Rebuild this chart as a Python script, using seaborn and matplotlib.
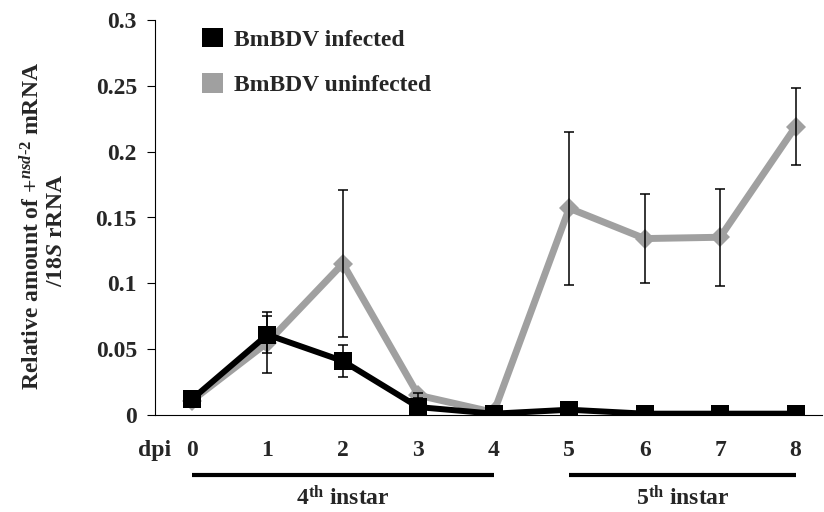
import matplotlib
matplotlib.use("Agg")
import matplotlib.pyplot as plt
import matplotlib.transforms as mtransforms
from matplotlib.patches import Patch
from matplotlib.ticker import FuncFormatter, MultipleLocator
import numpy as np
import pandas as pd
import seaborn as sns

# values
dpi = [0, 1, 2, 3, 4, 5, 6, 7, 8]
infected = [0.012, 0.061, 0.041, 0.006, 0.001, 0.004, 0.001, 0.001, 0.001]
infected_err = [0.002, 0.014, 0.012, 0.002, 0.0, 0.002, 0.0, 0.0, 0.0]
uninfected = [0.011, 0.055, 0.115, 0.015, 0.002, 0.157, 0.134, 0.135, 0.219]
uninfected_err = [0.002, 0.023, 0.056, 0.002, 0.0, 0.058, 0.034, 0.037, 0.029]
labels = ["BmBDV infected", "BmBDV uninfected"]
stages = [r"4$^{\mathbf{th}}$ instar", r"5$^{\mathbf{th}}$ instar"]
stage_spans = [(0, 4), (5, 8)]

sns.set_theme(style="white")
plt.rcParams["font.family"] = ["Liberation Serif", "DejaVu Serif"]
plt.rcParams["font.weight"] = "bold"
plt.rcParams["mathtext.fontset"] = "custom"
plt.rcParams["mathtext.rm"] = "Liberation Serif:bold"
plt.rcParams["mathtext.bf"] = "Liberation Serif:bold"
plt.rcParams["mathtext.it"] = "Liberation Serif:italic:bold"

df = pd.DataFrame({
    "dpi": dpi * 2,
    "value": uninfected + infected,
    "group": [labels[1]] * len(dpi) + [labels[0]] * len(dpi),
})

fig = plt.figure(figsize=(8.24, 5.12), dpi=100)
ax = fig.add_axes([155 / 824, 97 / 512, 667 / 824, 395 / 512])

colors = {labels[0]: "black", labels[1]: "#a0a0a0"}
fs = 17

# gray line first so the black one sits on top
sns.lineplot(data=df[df.group == labels[1]], x="dpi", y="value", color=colors[labels[1]],
             marker="D", markersize=10, markeredgewidth=0, linewidth=5, ax=ax, legend=False)
sns.lineplot(data=df[df.group == labels[0]], x="dpi", y="value", color=colors[labels[0]],
             marker="s", markersize=12.5, markeredgewidth=0, linewidth=4.3, ax=ax, legend=False)

ax.errorbar(dpi, uninfected, yerr=uninfected_err, fmt="none", ecolor="black",
            elinewidth=1.1, capsize=3.5, capthick=1.1, zorder=5)
ax.errorbar(dpi, infected, yerr=infected_err, fmt="none", ecolor="black",
            elinewidth=1.1, capsize=3.5, capthick=1.1, zorder=5)

ax.set_xlim(-0.49, 8.35)
ax.set_ylim(0, 0.3)
ax.yaxis.set_major_locator(MultipleLocator(0.05))
ax.yaxis.set_major_formatter(FuncFormatter(lambda v, p: "%g" % round(v, 2)))
ax.set_xticks(dpi)
ax.set_xticklabels([str(d) for d in dpi])
ax.tick_params(axis="y", which="major", left=True, length=6, width=0.8, pad=7,
               labelsize=fs, color="black")
ax.tick_params(axis="x", length=0, pad=18, labelsize=fs)
for lab in ax.get_xticklabels() + ax.get_yticklabels():
    lab.set_fontweight("bold")
ax.set_xlabel("")
ax.set_ylabel("")
for side in ["top", "right"]:
    ax.spines[side].set_visible(False)
for side in ["left", "bottom"]:
    ax.spines[side].set_color("black")
    ax.spines[side].set_linewidth(0.8)

# y label, two lines
fig.text(32 / 824, 1 - 226 / 512, "Relative amount of $+^{nsd\u20102}$ mRNA",
         rotation=90, ha="center", va="center", fontsize=fs, fontweight="bold")
fig.text(57 / 824, 1 - 231 / 512, r"/$\mathit{18S}$ rRNA",
         rotation=90, ha="center", va="center", fontsize=fs, fontweight="bold")

# dpi label and instar bars below the axis
trans = mtransforms.blended_transform_factory(ax.transData, ax.transAxes)
ax.text(-0.49, -0.089, "dpi", transform=trans, ha="center", va="center",
        fontsize=fs, fontweight="bold")
for (a, b), name in zip(stage_spans, stages):
    ax.plot([a, b], [-0.152, -0.152], transform=trans, color="black",
            linewidth=3, clip_on=False, solid_capstyle="butt")
    ax.text((a + b) / 2, -0.21, name, transform=trans, ha="center", va="center",
            fontsize=fs, fontweight="bold")

handles = [Patch(facecolor=colors[l], edgecolor="none", label=l) for l in labels]
fig.legend(handles=handles, loc="upper left", bbox_to_anchor=(190 / 824, 1 - 16 / 512),
           bbox_transform=fig.transFigure, frameon=False,
           handlelength=0.9, handleheight=0.9, handletextpad=0.45, labelspacing=0.95,
           borderpad=0, prop={"weight": "bold", "size": fs})

fig.savefig("out.png", dpi=100)
